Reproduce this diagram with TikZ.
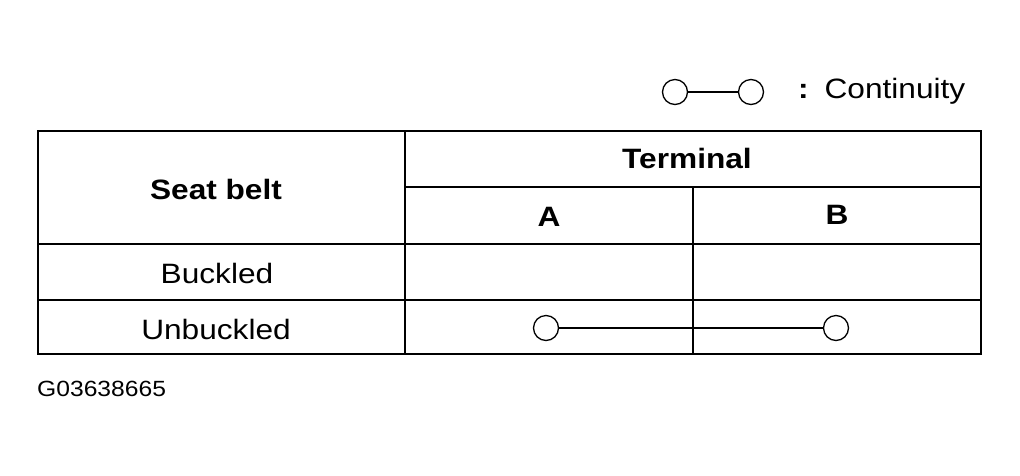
\documentclass[tikz,border=0pt]{standalone}
\usepackage{fontspec}
\usepackage{graphicx}
\setmainfont{Liberation Sans}
\newcommand{\widetxt}[1]{\scalebox{1.13}[1]{#1}}
\begin{document}
\begin{tikzpicture}[x=1pt,y=-1pt,
  txt/.style={font=\fontsize{28}{30}\selectfont,inner sep=0pt},
  btxt/.style={font=\fontsize{28}{30}\selectfont\bfseries,inner sep=0pt},
  circ/.style={circle,draw,line width=1.3pt,minimum size=25pt,inner sep=0pt},
  thin/.style={line width=1.3pt},
  thick/.style={line width=2.8pt}]
\useasboundingbox (0,0) rectangle (1020,475);
% legend
\node[circ] (l1) at (675,92) {};
\node[circ] (l2) at (751,92) {};
\draw[thin] (l1) -- (l2);
\node[txt,anchor=west] (leg) at (798,91) {\widetxt{\textbf{:}\hspace{14pt}Continuity}};
% table lines
\draw[thin] (405,131) -- (405,354);
\draw[thin] (405,187) -- (981,187);
\draw[thin] (693,187) -- (693,354);
\draw[thin] (38,244) -- (981,244);
\draw[thin] (38,300) -- (981,300);
\draw[thick] (38,131) rectangle (981,354);
% texts
\node[btxt] (sb) at (216,189) {\widetxt{Seat belt}};
\node[btxt] (term) at (687,158) {\widetxt{Terminal}};
\node[btxt] (a) at (549,217) {\widetxt{A}};
\node[btxt] (b) at (837,215) {\widetxt{B}};
\node[txt] (buck) at (217,273) {\widetxt{Buckled}};
\node[txt] (unb) at (216,329) {\widetxt{Unbuckled}};
\node[circ] (c1) at (546,328) {};
\node[circ] (c2) at (836,328) {};
\draw[thin] (c1) -- (c2);
\node[inner sep=0pt,anchor=west,font=\fontsize{22}{24}\selectfont] (id) at (37,389) {\scalebox{1.12}[1]{G03638665}};
\end{tikzpicture}
\end{document}
